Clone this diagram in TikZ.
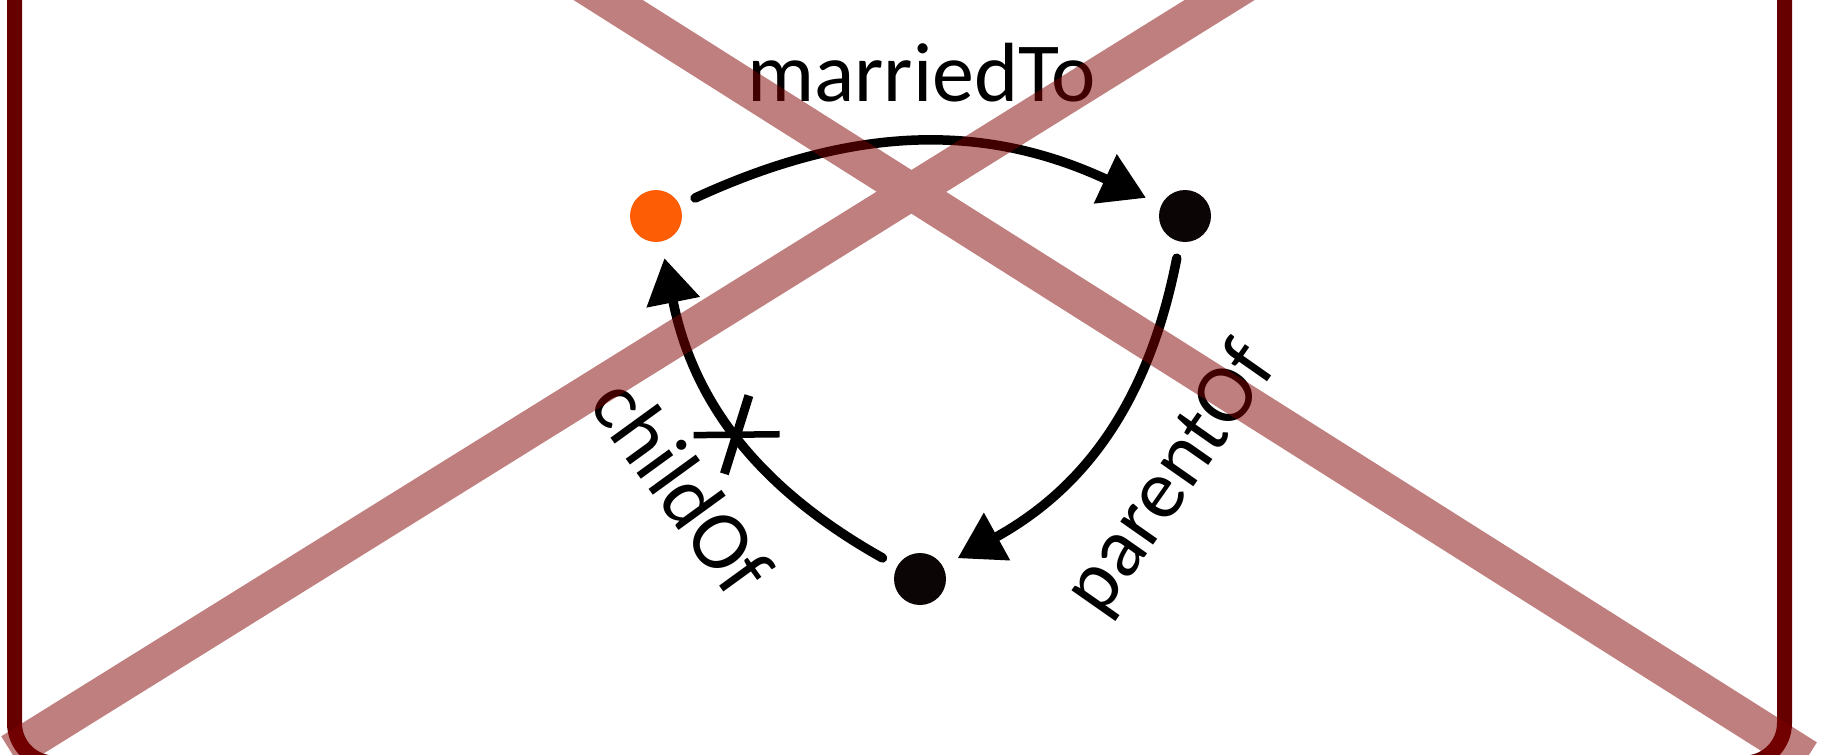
\documentclass[tikz,border=0pt]{standalone}
\usepackage{fontspec}
\setmainfont{Carlito}
\usetikzlibrary{arrows.meta}
\definecolor{framered}{RGB}{102,0,0}
\definecolor{crossred}{RGB}{128,0,0}
\definecolor{dotorange}{RGB}{253,94,5}
\definecolor{dotblack}{RGB}{12,5,5}
\begin{document}
\begin{tikzpicture}[x=1pt,y=-1pt,
  dot/.style={circle, minimum size=52pt, inner sep=0pt, outer sep=17pt},
  rel/.style={line width=9.5pt, line cap=round, -{Triangle[length=45pt,width=52pt]}},
  lbl/.style={font=\fontsize{84}{90}\selectfont, inner sep=0pt},
  xmark/.style={line width=8pt},
  crossout/.style={line width=37pt, draw=crossred, draw opacity=0.5},
  framebox/.style={line width=15pt, draw=framered, rounded corners=40pt}]
\useasboundingbox (0,0) rectangle (1832,755);
\clip (0,0) rectangle (1832,755);
\draw[framebox] (14.5,-100) rectangle (1784.5,763);
\node[dot, fill=dotorange] (o) at (656,216) {};
\node[dot, fill=dotblack] (r) at (1185,216) {};
\node[dot, fill=dotblack] (b) at (920,579) {};
\draw[rel] (o) .. controls (855,124.3) and (986,123.3) .. (r);
\draw[rel] (r) .. controls (1149.1,400.1) and (1086.2,487.4) .. (b);
\draw[rel] (b) .. controls (756,487) and (692.8,400.1) .. (o) coordinate[pos=0.5] (mid);
\draw[xmark, line width=9pt] (mid) ++(72.6:41pt) -- ++(252.6:82pt);
\draw[xmark, line width=6.5pt] (mid) ++(0.6:43pt) -- ++(180.6:86pt);
\node[lbl, anchor=base] (lm) at (921.5,101.7) {marriedTo};
\node[lbl, rotate=55] (lp) at (1172,480) {parentOf};
\node[lbl, rotate=-54] (lc) at (682,486) {childOf};
\draw[crossout] (529,-50) -- (1807,758) (1300,-50) -- (11,752);
\end{tikzpicture}
\end{document}
